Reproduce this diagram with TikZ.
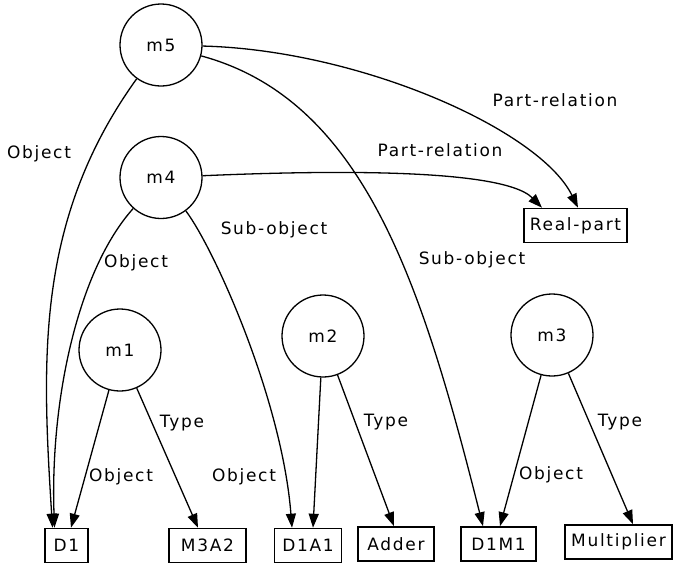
\documentclass[tikz,border=0pt]{standalone}
\usepackage{fontspec}
\setmainfont{DejaVu Sans}[LetterSpace=10]
\usetikzlibrary{arrows.meta}
\begin{document}
\begin{tikzpicture}[x=1pt,y=1pt,
  font=\fontsize{17pt}{20pt}\selectfont,
  state/.style={circle, draw, line width=1.3pt, minimum size=82pt, inner sep=0pt},
  term/.style={rectangle, draw, line width=1.6pt, minimum height=34pt, inner sep=0pt},
  rel/.style={-{Triangle[length=14pt,width=10pt]}, line width=1.3pt},
  lab/.style={inner sep=0pt}]
\useasboundingbox (0,0) rectangle (675,-566);

% concept nodes
\node[state] (m5) at (161,-45) {m5};
\node[state] (m4) at (161,-177.5) {m4};
\node[state] (m1) at (120,-350) {m1};
\node[state] (m2) at (323,-336) {m2};
\node[state] (m3) at (552,-335) {m3};

% terminal boxes
\node[term, minimum width=43pt]  (D1)   at (66.5,-545.5)  {D1};
\node[term, minimum width=77pt]  (M3A2) at (207.5,-545.5) {M3A2};
\node[term, minimum width=67pt]  (D1A1) at (308,-545.5)   {D1A1};
\node[term, minimum width=76pt]  (Adder) at (396,-544)    {Adder};
\node[term, minimum width=75pt]  (D1M1) at (498.5,-544)   {D1M1};
\node[term, minimum width=107pt] (Mult) at (618.5,-542)   {Multiplier};
\node[term, minimum width=103pt] (Real) at (575.5,-225.5) {Real-part};

% relations of m5 and m4
\draw[rel] (m5) .. controls (35,-220) and (42,-360) .. ([xshift=-14pt]D1.north);
\draw[rel] (m4) .. controls (78,-270) and (50,-400) .. ([xshift=-12pt]D1.north);
\draw[rel] (m4) .. controls (215,-250) and (282,-400) .. ([xshift=-16pt]D1A1.north);
\draw[rel] (m5) .. controls (364,-100) and (422,-284) .. ([xshift=-15.5pt]D1M1.north);
\draw[rel] (m5) .. controls (360,-50) and (540,-130) .. ([xshift=2.5pt]Real.north);
\draw[rel] (m4) .. controls (290,-172) and (500,-165) .. ([xshift=-33.5pt]Real.north);

% relations of m1, m2, m3
\draw[rel] (m1) -- ([xshift=4.5pt]D1.north);
\draw[rel] (m1) -- ([xshift=-9.5pt]M3A2.north);
\draw[rel] (m2) -- ([xshift=5pt]D1A1.north);
\draw[rel] (m2) -- ([xshift=-2pt]Adder.north);
\draw[rel] (m3) -- ([xshift=1.5pt]D1M1.north);
\draw[rel] (m3) -- ([xshift=14.5pt]Mult.north);

% relation labels
\node[lab] (l5obj)  at (39,-154)  {Object};
\node[lab] (l4obj)  at (136,-263) {Object};
\node[lab] (l4sub)  at (274,-230) {Sub-object};
\node[lab] (l5sub)  at (472,-260) {Sub-object};
\node[lab] (l5part) at (555,-100) {Part-relation};
\node[lab] (l4part) at (440,-150) {Part-relation};
\node[lab] (l1obj)  at (121,-477) {Object};
\node[lab] (l1type) at (182,-423) {Type};
\node[lab] (l2obj)  at (244,-477) {Object};
\node[lab] (l2type) at (386,-422) {Type};
\node[lab] (l3obj)  at (551,-475) {Object};
\node[lab] (l3type) at (620,-422) {Type};
\end{tikzpicture}
\end{document}
